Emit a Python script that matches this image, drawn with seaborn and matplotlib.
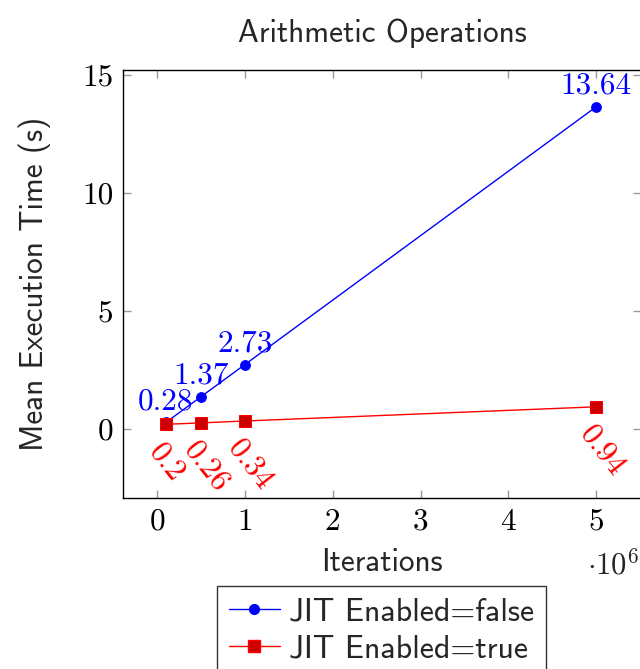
import numpy as np
import pandas as pd
import seaborn as sns
import matplotlib.pyplot as plt
from matplotlib.lines import Line2D

iterations = [100000, 500000, 1000000, 5000000]
time_jit_false = [0.28, 1.37, 2.73, 13.64]
time_jit_true = [0.2, 0.26, 0.34, 0.94]

sns.set_theme(style="white")
plt.rcParams['mathtext.fontset'] = 'cm'
plt.rcParams['axes.formatter.use_mathtext'] = True

df = pd.DataFrame({
    "Iterations": iterations * 2,
    "time": time_jit_false + time_jit_true,
    "JIT Enabled": ["false"] * 4 + ["true"] * 4,
})
df["x"] = df["Iterations"] / 1e6

fig = plt.figure(figsize=(6.4, 6.69), dpi=100)
ax = fig.add_axes([0.192, 0.2556, 0.8094, 0.6398])

false_df = df[df["JIT Enabled"] == "false"]
true_df = df[df["JIT Enabled"] == "true"]
sns.lineplot(data=false_df, x="x", y="time", ax=ax, color="blue", lw=1,
             marker="o", markersize=7, markeredgecolor="blue", markerfacecolor="blue")
sns.lineplot(data=true_df, x="x", y="time", ax=ax, color="red", lw=1,
             marker="s", markersize=8, markeredgecolor="red", markerfacecolor="#cc0000")

ax.set_xlim(-0.39, 5.51)
ax.set_ylim(-2.92, 15.2)
ax.set_xticks([0, 1, 2, 3, 4, 5])
ax.set_yticks([0, 5, 10, 15])

tickfont = dict(family="cmr10", size=22.5)
ax.set_xticklabels([str(t) for t in [0, 1, 2, 3, 4, 5]], fontdict=tickfont)
ax.set_yticklabels([str(t) for t in [0, 5, 10, 15]], fontdict=tickfont)
ax.tick_params(direction="in", length=6, width=1, color="#999999",
               top=True, right=True, bottom=True, left=True, pad=7, labelcolor="black")

for s in ax.spines.values():
    s.set_color("black")
    s.set_linewidth(1)
    s.set_visible(True)

# value labels
for xv, yv in zip(false_df["x"], false_df["time"]):
    ax.annotate(f"{yv:g}", (xv, yv), xytext=(0, 5), textcoords="offset points",
                ha="center", va="bottom", color="blue", family="cmr10", fontsize=22.5)
for xv, yv in zip(true_df["x"], true_df["time"]):
    ax.annotate(f"{yv:g}", (xv, yv), xytext=(-8, -16), textcoords="offset points",
                ha="left", va="center", rotation=-52, rotation_mode="anchor",
                color="red", family="cmr10", fontsize=22.5)

labfont = dict(family="cmss10", size=22.5)
ax.set_xlabel("Iterations", fontdict=labfont, labelpad=9)
ax.set_ylabel("Mean Execution Time (s)", fontdict=labfont, labelpad=22)
ax.set_title("Arithmetic Operations", fontdict=labfont, pad=20)
ax.text(0.895, -0.155, r"$\cdot10^{6}$", transform=ax.transAxes, fontsize=22,
        ha="left", va="center")

handles = [
    Line2D([], [], color="blue", lw=1, marker="o", markersize=7),
    Line2D([], [], color="red", lw=1, marker="s", markersize=8,
           markerfacecolor="#cc0000", markeredgecolor="red"),
]
leg = fig.legend(handles, ["JIT Enabled=false", "JIT Enabled=true"],
                 loc="upper center", bbox_to_anchor=(0.596, 1 - 586 / 669),
                 prop=dict(family="cmss10", size=23), frameon=True, fancybox=False,
                 edgecolor="black", handlelength=1.6, handletextpad=0.3,
                 borderpad=0.35, labelspacing=0.25, borderaxespad=0)
leg.get_frame().set_linewidth(1)

fig.savefig("out.png", dpi=100)
